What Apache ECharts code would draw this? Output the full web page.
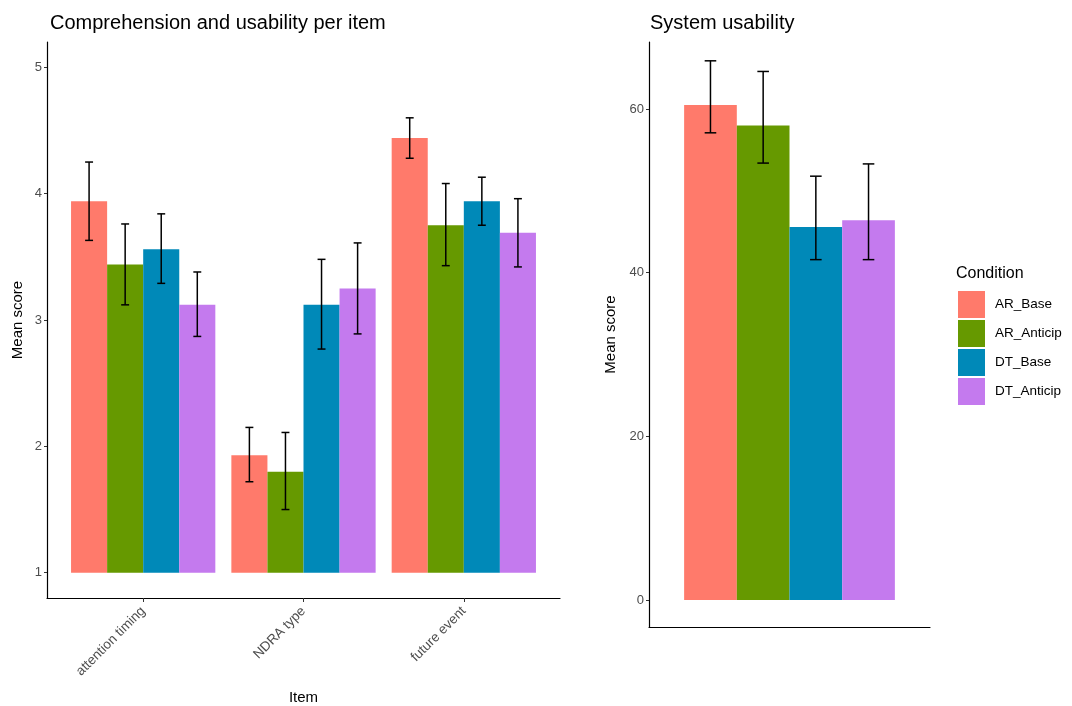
<!DOCTYPE html>
<html>
<head>
<meta charset="utf-8">
<script src="https://cdn.jsdelivr.net/npm/echarts@6/dist/echarts.min.js"></script>
<style>
html,body{margin:0;padding:0;background:#fff;}
#c{width:1072px;height:706px;}
</style>
</head>
<body>
<div id="c"></div>
<script>
// ---- data ----
const items = ['attention timing', 'NDRA type', 'future event'];
const conditions = ['AR_Base', 'AR_Anticip', 'DT_Base', 'DT_Anticip'];
const colors = ['#FF7A6B', '#669900', '#0089B8', '#C47AEE'];

const arBaseMean = [3.94, 1.93, 4.44];
const arBaseLo   = [3.63, 1.72, 4.28];
const arBaseHi   = [4.25, 2.15, 4.60];

const arAnticipMean = [3.44, 1.80, 3.75];
const arAnticipLo   = [3.12, 1.50, 3.43];
const arAnticipHi   = [3.76, 2.11, 4.08];

const dtBaseMean = [3.56, 3.12, 3.94];
const dtBaseLo   = [3.29, 2.77, 3.75];
const dtBaseHi   = [3.84, 3.48, 4.13];

const dtAnticipMean = [3.12, 3.25, 3.69];
const dtAnticipLo   = [2.87, 2.89, 3.42];
const dtAnticipHi   = [3.38, 3.61, 3.96];

const susMean = [60.5, 58.0, 45.6, 46.4];
const susLo   = [57.1, 53.4, 41.6, 41.6];
const susHi   = [65.9, 64.6, 51.8, 53.3];

const leftTicks = [1, 2, 3, 4, 5];
const rightTicks = [0, 20, 40, 60];

// ---- build ----
const itemSets = [
  [arBaseMean, arBaseLo, arBaseHi],
  [arAnticipMean, arAnticipLo, arAnticipHi],
  [dtBaseMean, dtBaseLo, dtBaseHi],
  [dtAnticipMean, dtAnticipLo, dtAnticipHi]
];

const DODGE = 0.9 / 4;
function makeRender(base, k) {
  return function (params, api) {
    const x = api.value(0) + (k - 1.5) * DODGE;
    const v = api.value(1), lo = api.value(2), hi = api.value(3);
    const p0 = api.coord([x - DODGE / 2, v]);
    const p1 = api.coord([x + DODGE / 2, base]);
    const pc = api.coord([x, hi]);
    const pl = api.coord([x, lo]);
    const cw = (p1[0] - p0[0]) * 0.11;
    const ls = { stroke: '#000', lineWidth: 1.5 };
    return {
      type: 'group',
      children: [
        { type: 'rect', shape: { x: p0[0], y: p0[1], width: p1[0] - p0[0], height: p1[1] - p0[1] },
          style: { fill: api.visual('color') } },
        { type: 'line', shape: { x1: pc[0], y1: pc[1], x2: pl[0], y2: pl[1] }, style: ls },
        { type: 'line', shape: { x1: pc[0] - cw, y1: pc[1], x2: pc[0] + cw, y2: pc[1] }, style: ls },
        { type: 'line', shape: { x1: pl[0] - cw, y1: pl[1], x2: pl[0] + cw, y2: pl[1] }, style: ls }
      ]
    };
  };
}

const series = [];
conditions.forEach((name, k) => {
  const [m, lo, hi] = itemSets[k];
  series.push({
    type: 'custom', name: name, xAxisIndex: 0, yAxisIndex: 0,
    itemStyle: { color: colors[k] },
    renderItem: makeRender(1, k),
    encode: { x: 0, y: [1, 2, 3] },
    data: items.map((_, i) => [i + 1, m[i], lo[i], hi[i]]),
    silent: true
  });
});
conditions.forEach((name, k) => {
  series.push({
    type: 'custom', name: name, xAxisIndex: 1, yAxisIndex: 1,
    itemStyle: { color: colors[k] },
    renderItem: makeRender(0, k),
    encode: { x: 0, y: [1, 2, 3] },
    data: [[1, susMean[k], susLo[k], susHi[k]]],
    silent: true
  });
});

const FONT = '"Liberation Sans", Arial, sans-serif';
const axisLineStyle = { color: '#000', width: 1.2 };
const tickStyle = { color: '#333', width: 1 };

const chart = echarts.init(document.getElementById('c'), null, { renderer: 'canvas' });
chart.setOption({
  backgroundColor: '#fff',
  animation: false,
  textStyle: { fontFamily: FONT },
  title: [
    { text: 'Comprehension and usability per item', left: 45, top: 8,
      textStyle: { fontSize: 20, fontWeight: 'normal', color: '#000', fontFamily: FONT } },
    { text: 'System usability', left: 645, top: 8,
      textStyle: { fontSize: 20, fontWeight: 'normal', color: '#000', fontFamily: FONT } },
    { text: 'Condition', left: 951, top: 261,
      textStyle: { fontSize: 16, fontWeight: 'normal', color: '#000', fontFamily: FONT } }
  ],
  legend: {
    data: conditions,
    orient: 'vertical', left: 958, top: 291,
    icon: 'rect', itemWidth: 27, itemHeight: 27, itemGap: 2,
    selectedMode: false, padding: 0,
    textStyle: { fontSize: 13.5, color: '#000', fontFamily: FONT, padding: [0, 0, 0, 5] }
  },
  grid: [
    { left: 47, right: 1072 - 560, top: 42, bottom: 706 - 598, outerBoundsMode: 'none', containLabel: false },
    { left: 649, right: 1072 - 930, top: 42, bottom: 706 - 627, outerBoundsMode: 'none', containLabel: false }
  ],
  xAxis: [
    { type: 'value', gridIndex: 0, min: 0.4, max: 3.6,
      name: 'Item', nameLocation: 'middle', nameGap: 92,
      nameTextStyle: { fontSize: 15, color: '#000', fontFamily: FONT },
      axisLine: { show: true, onZero: false, lineStyle: axisLineStyle },
      axisTick: { show: true, length: 4, customValues: [1, 2, 3], lineStyle: tickStyle },
      axisLabel: { customValues: [1, 2, 3], rotate: 45, fontSize: 13.5, color: '#4D4D4D', margin: 11,
        formatter: v => items[Math.round(v) - 1] || '' },
      splitLine: { show: false } },
    { type: 'value', gridIndex: 1, min: 0.4, max: 1.6,
      axisLine: { show: true, onZero: false, lineStyle: axisLineStyle },
      axisTick: { show: false }, axisLabel: { show: false }, splitLine: { show: false } }
  ],
  yAxis: [
    { type: 'value', gridIndex: 0, min: 0.8, max: 5.2,
      name: 'Mean score', nameLocation: 'middle', nameGap: 22,
      nameTextStyle: { fontSize: 15, color: '#000', fontFamily: FONT },
      axisLine: { show: true, onZero: false, lineStyle: axisLineStyle },
      axisTick: { show: true, length: 3, customValues: leftTicks, lineStyle: tickStyle },
      axisLabel: { customValues: leftTicks, fontSize: 13, color: '#4D4D4D', margin: 5 },
      splitLine: { show: false } },
    { type: 'value', gridIndex: 1, min: -3.3, max: 68.2,
      name: 'Mean score', nameLocation: 'middle', nameGap: 31,
      nameTextStyle: { fontSize: 15, color: '#000', fontFamily: FONT },
      axisLine: { show: true, onZero: false, lineStyle: axisLineStyle },
      axisTick: { show: true, length: 3, customValues: rightTicks, lineStyle: tickStyle },
      axisLabel: { customValues: rightTicks, fontSize: 13, color: '#4D4D4D', margin: 5 },
      splitLine: { show: false } }
  ],
  series: series
});
</script>
</body>
</html>
